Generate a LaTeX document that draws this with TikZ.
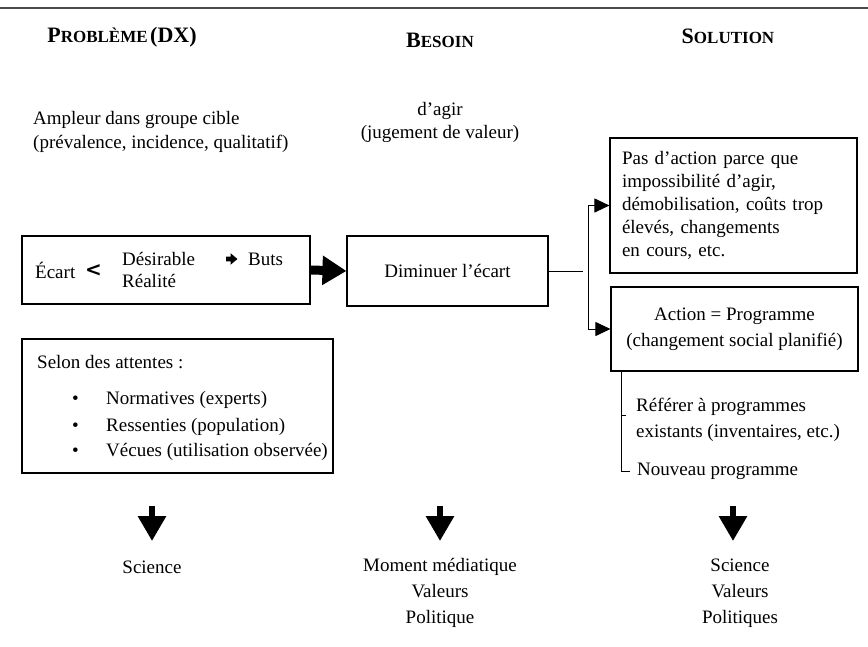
\documentclass[tikz,border=0pt]{standalone}
\usepackage{fontspec}
\setmainfont{Liberation Serif}
\newfontfamily\symfont{DejaVu Sans}
\usetikzlibrary{arrows.meta,calc}

% small caps built by hand: full-size initial, reduced capitals after it
\newcommand{\capfull}[1]{{\fontsize{22}{22}\selectfont #1}}
\newcommand{\capsmall}[1]{{\fontsize{17}{17}\selectfont #1}}

\tikzset{
  body/.style={font=\fontsize{19}{23}\selectfont, inner sep=0pt},
  boxed/.style={draw, line width=1.1pt, inner sep=0pt},
  head/.style={font=\bfseries, inner sep=0pt},
  thin/.style={line width=0.9pt},
  smallarrow/.style={thin, -{Triangle[length=15pt, width=14pt]}},
  downarrow/.style={line width=6pt, -{Triangle[length=25pt 0 0, width=27pt 0 0]}},
  bigarrow/.style={line width=9pt, -{Triangle[length=24pt 0 0, width=28pt 0 0]}}
}

\begin{document}
\begin{tikzpicture}[x=1pt, y=-1pt]
\useasboundingbox (0,0) rectangle (868,646);

% rule across the top
\draw[line width=2pt, black!70] (0,8) -- (868,8);

% column headings
\node[head] (hprob) at (122,37) {\capfull{P}\capsmall{ROBLÈME} \capfull{(DX)}};
\node[head] (hbes)  at (440,40) {\capfull{B}\capsmall{ESOIN}};
\node[head] (hsol)  at (728,36) {\capfull{S}\capsmall{OLUTION}};

% notes under the headings
\node[body, anchor=west, align=left] (ampleur) at (33,132)
  {Ampleur dans groupe cible\\[1pt](prévalence, incidence, qualitatif)};
\node[body, align=center] (agir) at (440,122) {d’agir\\(jugement de valeur)};

% gap box
\node[boxed, minimum width=288pt, minimum height=68pt] (ecart) at (166,270) {};
\node[body, anchor=west] (ecarttxt) at (35,270) {Écart};
\node[body, anchor=west] (lt) at (85,271) {\symfont\bfseries\fontsize{20}{20}\selectfont <};
\node[body, anchor=west] (desir) at (122,259) {Désirable};
\node[body, anchor=west] (real) at (122,281) {Réalité};
\coordinate (pa) at (226,259);
\fill (pa) ++(0,-2.4) -- ++(4.5,0) -- ++(0,-3.4) -- ++(7,5.8) -- ++(-7,5.8) -- ++(0,-3.4) -- ++(-4.5,0) -- cycle;
\node[body, anchor=west] (buts) at (248,259) {Buts};

% need box
\node[boxed, minimum width=201pt, minimum height=70pt, body] (dim) at (447.5,271) {Diminuer l’écart};

\draw[bigarrow] (ecart.east) -- (dim.west);

% solution boxes
\node[boxed, body, minimum width=247pt, minimum height=135pt, text width=223pt, align=left]
  (pas) at (733.5,205.5)
  {Pas d’action parce que\\impossibilité d’agir,\\démobilisation, coûts trop\\élevés, changements\\en cours, etc.};
\node[boxed, body, minimum width=247pt, minimum height=84pt, align=center,
  font=\fontsize{19}{26}\selectfont]
  (act) at (734.5,329) {Action = Programme\\(changement social planifié)};

% branching from the need box
\coordinate (split) at (588,269);
\draw[thin] (dim.east) -- ([xshift=-5pt]dim.east -| split);
\draw[smallarrow] (split |- act.west) |- (pas.west);
\draw[smallarrow] (split |- pas.west) |- (act.west);

% programme options
\node[body, anchor=north west, align=left] (refer) at (636,398)
  {Référer à programmes\\[3pt]existants (inventaires, etc.)};
\node[body, anchor=west] (nouveau) at (637,471) {Nouveau programme};
\coordinate (stem) at ([xshift=11pt]act.south west);
\draw[thin] (stem) |- ([xshift=-7pt]nouveau.west);
\draw[thin] (stem |- 0,415) -- ++(4.5,0);

% expectations box
\node[boxed, minimum width=311pt, minimum height=134pt] (attentes) at (177.5,406) {};
\node[body, anchor=west] (selon) at (37,362) {Selon des attentes :};
\foreach \y/\t [count=\i] in {400/Normatives (experts), 427/Ressenties (population), 452/Vécues (utilisation observée)} {
  \node[body, anchor=west] (bul\i) at (72,\y) {•};
  \node[body, anchor=west] (item\i) at (106,\y) {\t};
}

% where each step comes from
\node[body] (sci) at (152,567) {Science};
\node[body, align=center, font=\fontsize{19}{26}\selectfont] (mom) at (440,593)
  {Moment médiatique\\Valeurs\\Politique};
\node[body, align=center, font=\fontsize{19}{26}\selectfont] (svp) at (740,593)
  {Science\\Valeurs\\Politiques};

\coordinate (d1) at (152,506);
\coordinate (d2) at (440,506);
\coordinate (d3) at (733,506);
\draw[downarrow] (d1) -- (152,541);
\draw[downarrow] (d2) -- (440,541);
\draw[downarrow] (d3) -- (733,541);
\end{tikzpicture}
\end{document}
